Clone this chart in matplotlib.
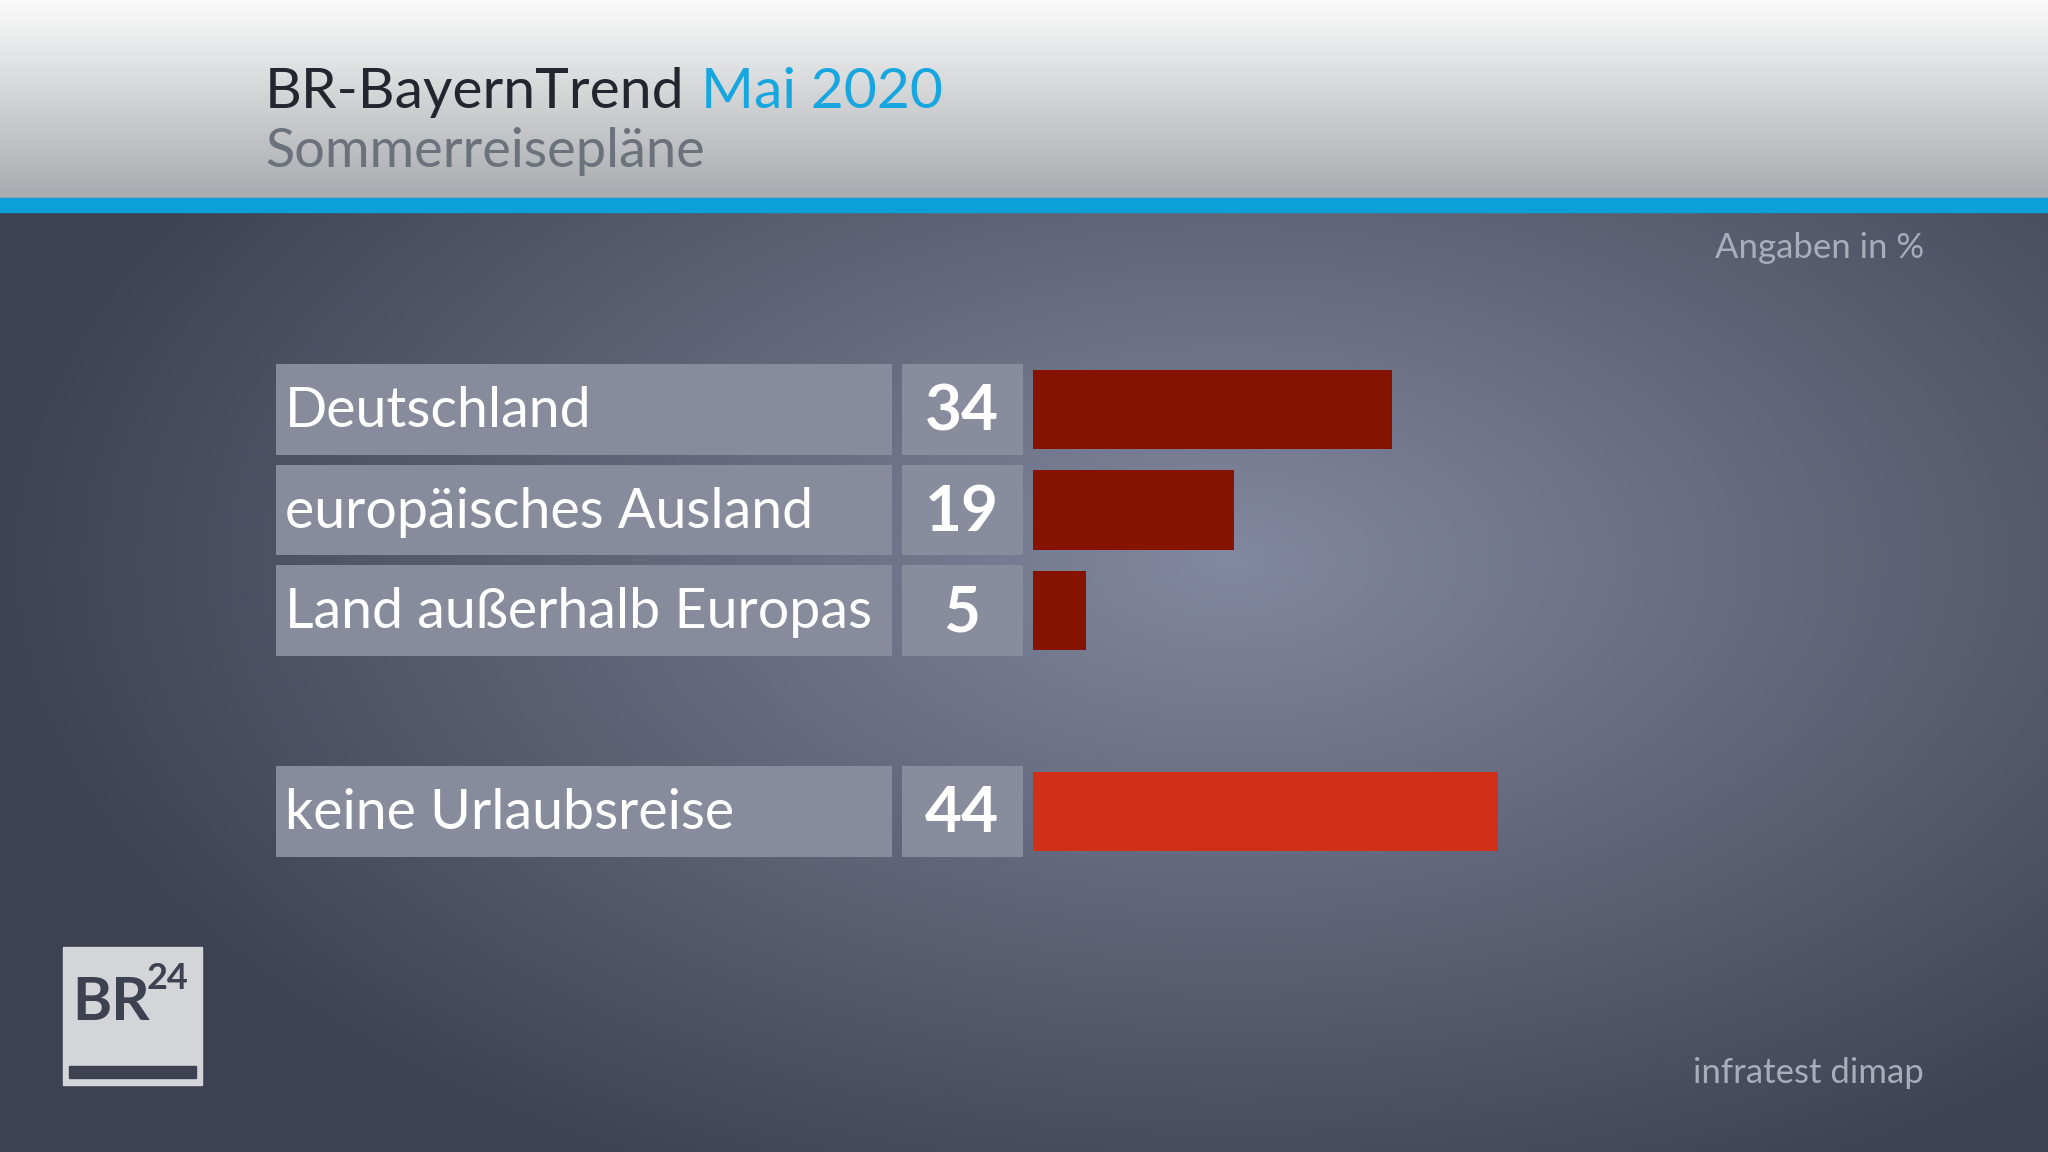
import numpy as np
import matplotlib
matplotlib.use("Agg")
import matplotlib.pyplot as plt
from matplotlib.patches import Rectangle
from matplotlib.transforms import blended_transform_factory

# data
categories = ["Deutschland", "europäisches Ausland", "Land außerhalb Europas", "keine Urlaubsreise"]
values = [34, 19, 5, 44]
rows = [0, 1, 2, 4]          # gap before "keine Urlaubsreise"
bar_colors = ["#861300", "#861300", "#861300", "#d02f18"]

title = "BR-BayernTrend"
title_date = "Mai 2020"
subtitle = "Sommerreisepläne"
unit_note = "Angaben in %"
source = "infratest dimap"

plt.rcParams["font.family"] = ["Lato", "DejaVu Sans"]

W, H = 2048, 1152
fig = plt.figure(figsize=(W / 100, H / 100), dpi=100)

# background axes in pixel coordinates
bg = fig.add_axes([0, 0, 1, 1])
bg.set_xlim(0, W)
bg.set_ylim(H, 0)
bg.axis("off")

# dark radial gradient
yy, xx = np.mgrid[0:H, 0:W]
r = np.sqrt(((xx - 1230) / 1250.0) ** 2 + ((yy - 560) / 700.0) ** 2)
t = np.clip(r, 0, 1) ** 1.0
c_in = np.array([0x82, 0x88, 0x9f]) / 255
c_out = np.array([0x3e, 0x41, 0x51]) / 255
img = c_in[None, None, :] * (1 - t[..., None]) + c_out[None, None, :] * t[..., None]
bg.imshow(img, extent=(0, W, H, 0), aspect="auto", zorder=0)

# header gradient
hdr = np.linspace(0, 1, 200)[:, None]
top = np.array([0xfb, 0xfb, 0xfb]) / 255
bot = np.array([0xa8, 0xab, 0xaf]) / 255
hdr_img = (top * (1 - hdr[..., None]) + bot * hdr[..., None]) * np.ones((1, 2, 1))
bg.imshow(hdr_img, extent=(0, W, 199, 0), aspect="auto", zorder=1)
bg.add_patch(Rectangle((0, 198), W, 14, color="#0d9fd8", zorder=2))
bg.set_xlim(0, W)
bg.set_ylim(H, 0)

bg.text(265, 108, title, fontsize=41, color="#23252f", va="baseline", zorder=3)
bg.text(701, 108, title_date, fontsize=41, color="#18a6e0", va="baseline", zorder=3)
bg.text(265, 167, subtitle, fontsize=39, color="#6c727c", va="baseline", zorder=3)

bg.text(1924, 248, unit_note, fontsize=25, color="#a9acba", ha="right", va="center", zorder=3)
bg.text(1924, 1073, source, fontsize=25, color="#a9acba", ha="right", va="center", zorder=3)

# BR24 logo
bg.add_patch(Rectangle((63, 947), 139, 138, color="#d4d5d9", zorder=3))
bg.add_patch(Rectangle((69, 1066), 127, 12, color="#3e4150", zorder=4))
bg.text(72, 1020, "BR", fontsize=43, fontweight="bold", color="#3e4150", va="baseline", zorder=4)
bg.text(147, 989, "24", fontsize=26, fontweight="bold", color="#3e4150", va="baseline", zorder=4)

# bar axes: x in percent, y in rows
px_per_pct = 10.56
x0_px = 1033
xmax = 80
row_px = 100.5
ax = fig.add_axes([x0_px / W, 1 - (409.5 + 4.5 * row_px) / H,
                   xmax * px_per_pct / W, 5 * row_px / H])
ax.set_xlim(0, xmax)
ax.set_ylim(4.5, -0.5)
ax.axis("off")
ax.patch.set_alpha(0)

ax.barh(rows, values, height=0.79, color=bar_colors, zorder=3)

trans = blended_transform_factory(bg.transData, ax.transData)
box_h = 0.905
for cat, val, y in zip(categories, values, rows):
    ax.add_patch(Rectangle((276, y - box_h / 2), 616, box_h, transform=trans,
                           facecolor="#878b9b", edgecolor="none", zorder=2, clip_on=False))
    ax.add_patch(Rectangle((902, y - box_h / 2), 121, box_h, transform=trans,
                           facecolor="#888c9c", edgecolor="none", zorder=2, clip_on=False))
    ax.text(285, y + 0.02, cat, transform=trans, fontsize=40, color="white",
            va="center", ha="left", zorder=4, clip_on=False)
    ax.text(962, y + 0.02, str(val), transform=trans, fontsize=46, fontweight="bold",
            color="white", va="center", ha="center", zorder=4, clip_on=False)

fig.savefig("out.png", dpi=100)
